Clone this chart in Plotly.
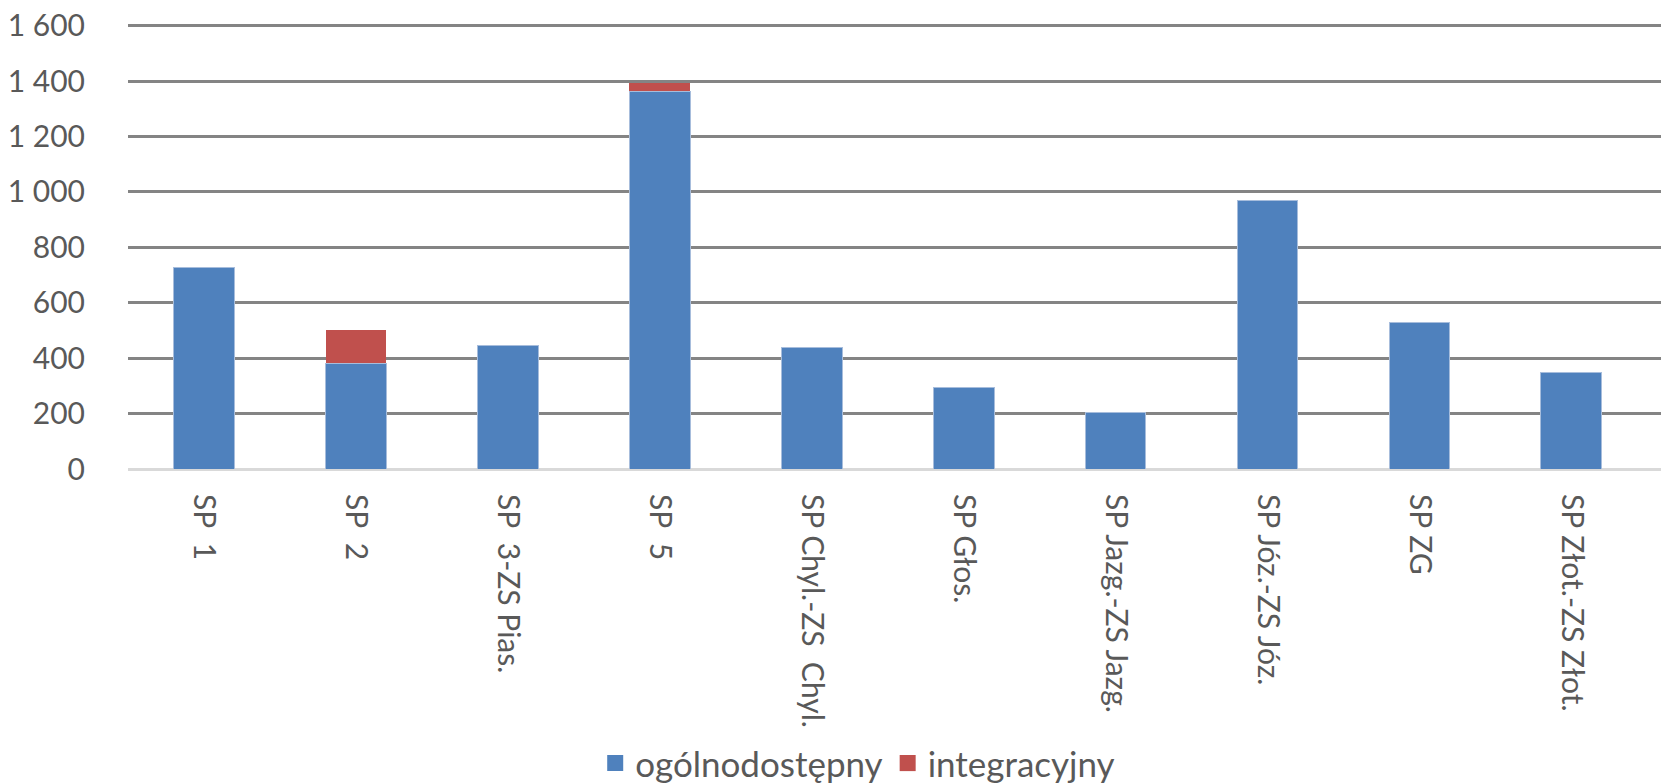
import plotly.graph_objects as go

categories = ["SP\u00a0\u00a01", "SP\u00a0\u00a02", "SP\u00a0\u00a03-ZS Pias.", "SP\u00a0\u00a05",
              "SP Chyl.-ZS\u00a0\u00a0Chyl.", "SP Głos.", "SP Jazg.-ZS Jazg.", "SP Józ.-ZS Józ.",
              "SP ZG", "SP Złot.-ZS Złot."]
ogolnodostepny = [729, 382, 447, 1363, 437, 293, 205, 970, 529, 350]
integracyjny = [0, 120, 0, 32, 0, 0, 0, 0, 0, 0]
y_ticks = [0, 200, 400, 600, 800, 1000, 1200, 1400, 1600]
series_names = ["ogólnodostępny", "integracyjny"]
series_colors = ["#4F81BD", "#C0504D"]

FONT = "Lato"
TXT = "#595959"

fig = go.Figure()
fig.add_trace(go.Bar(x=categories, y=ogolnodostepny, name=series_names[0], showlegend=False,
                     marker=dict(color=series_colors[0], line=dict(width=1, color="#A7BDDC"))))
fig.add_trace(go.Bar(x=categories, y=integracyjny, name=series_names[1], showlegend=False,
                     marker=dict(color=series_colors[1], line=dict(width=0))))
# legend entries with larger square swatches
for nm, col in zip(series_names, series_colors):
    fig.add_trace(go.Scatter(x=[None], y=[None], mode="markers", name=nm,
                             marker=dict(symbol="square", size=19, color=col)))

fig.update_layout(
    barmode="stack",
    bargap=0.6,
    width=1661, height=783,
    margin=dict(l=128, r=0, t=23, b=314, autoexpand=False),
    plot_bgcolor="white", paper_bgcolor="white",
    separators=", ",
    font=dict(family=FONT, size=30, color=TXT),
    showlegend=True,
    legend=dict(orientation="h", x=0.476, xanchor="center", y=-0.66, yanchor="middle",
                font=dict(family=FONT, size=35, color=TXT), itemwidth=30,
                traceorder="normal"),
    xaxis=dict(range=[-0.5, 9.59], tickangle=90, showgrid=False, automargin=False,
               showline=False, ticks="outside", ticklen=18, tickcolor="rgba(0,0,0,0)",
               tickfont=dict(family=FONT, size=30, color=TXT)),
    yaxis=dict(range=[0, 1610], tickvals=y_ticks, tickformat=",d", automargin=False,
               showgrid=True, gridcolor="#848484", gridwidth=2.5,
               zeroline=True, zerolinecolor="#D9D9D9", zerolinewidth=3,
               ticks="outside", ticklen=36, tickcolor="rgba(0,0,0,0)",
               tickfont=dict(family=FONT, size=30, color=TXT)),
)

fig.write_html("out.html", config={"displayModeBar": False},
               post_script="document.body.style.margin='0';document.body.style.overflow='hidden';")
